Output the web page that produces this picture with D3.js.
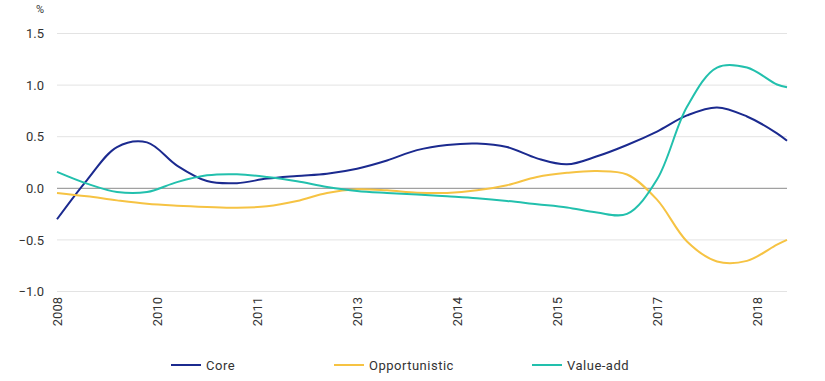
<!DOCTYPE html>
<html>
<head>
<meta charset="utf-8">
<script src="https://cdn.jsdelivr.net/npm/d3@7"></script>
<style>
  html, body { margin: 0; padding: 0; background: #fff; }
  svg { display: block; font-family: Roboto, "Noto Sans", sans-serif; }
</style>
</head>
<body>
<svg id="chart" width="825" height="381"></svg>
<script>
// ---- data ----
const periods = [0,3,6,9,12,15,18,21,24,27,30,33,36,39,42,45,48,51,54,57,60,63,66,69,72,73];
const tickPeriods = [0,10,20,30,40,50,60,70];
const tickLabels = ["2008","2010","2011","2013","2014","2015","2017","2018"];
const yTicks = [-1.0,-0.5,0.0,0.5,1.0,1.5];
const seriesNames = ["Core","Opportunistic","Value-add"];
const core = [-0.30,0.08,0.40,0.445,0.22,0.07,0.05,0.094,0.12,0.142,0.19,0.27,0.37,0.42,0.434,0.40,0.29,0.232,0.31,0.42,0.55,0.706,0.784,0.696,0.533,0.46];
const opportunistic = [-0.045,-0.078,-0.117,-0.15,-0.168,-0.18,-0.188,-0.175,-0.123,-0.045,-0.01,-0.02,-0.042,-0.045,-0.02,0.03,0.11,0.15,0.167,0.134,-0.11,-0.515,-0.709,-0.703,-0.546,-0.50];
const valueAdd = [0.159,0.045,-0.036,-0.036,0.06,0.126,0.136,0.11,0.068,0.013,-0.026,-0.045,-0.06,-0.078,-0.097,-0.123,-0.155,-0.186,-0.235,-0.248,0.085,0.79,1.17,1.17,1.006,0.98];
const colors = ["#1b2a8f","#f6c343","#22c0ad"];

// ---- layout ----
const svg = d3.select("#chart");
const x = d3.scaleLinear().domain([0,73]).range([57,787]);
const y = d3.scaleLinear().domain([-1,1.5]).range([291.5,33.5]);

// gridlines
svg.append("g").selectAll("line").data(yTicks.filter(d => d !== 0)).join("line")
  .attr("x1", 57).attr("x2", 787)
  .attr("y1", d => y(d)).attr("y2", d => y(d))
  .attr("stroke", "#e3e3e3").attr("stroke-width", 1);

// y axis labels
const yAxis = d3.axisLeft(y).tickValues(yTicks).tickFormat(d3.format(".1f")).tickSize(0).tickPadding(0);
const gy = svg.append("g").attr("transform", "translate(44,0)").call(yAxis);
gy.select(".domain").remove();
gy.selectAll("text").attr("font-size", 13).attr("fill", "#333").attr("font-family", "Roboto, sans-serif");

svg.append("text").attr("x", 44).attr("y", 13).attr("text-anchor", "end")
  .attr("font-size", 11).attr("fill", "#333").text("%");

// x axis labels
const xAxis = d3.axisBottom(x).tickValues(tickPeriods).tickFormat((d,i) => tickLabels[i]).tickSize(0);
const gx = svg.append("g").attr("transform", "translate(0,296)").call(xAxis);
gx.select(".domain").remove();
gx.selectAll(".tick text")
  .attr("font-size", 13).attr("fill", "#333").attr("font-family", "Roboto, sans-serif")
  .attr("text-anchor", "end").attr("dy", "0.35em").attr("x", -1).attr("y", 0)
  .attr("transform", "rotate(-90)");

// zero line
svg.append("line").attr("x1", 57).attr("x2", 787).attr("y1", y(0)).attr("y2", y(0))
  .attr("stroke", "#8a8a8a").attr("stroke-width", 1);

// lines
const allSeries = [core, opportunistic, valueAdd];
const line = d3.line().x((d,i) => x(periods[i])).y(d => y(d)).curve(d3.curveCatmullRom.alpha(0.5));
svg.append("g").selectAll("path").data(allSeries).join("path")
  .attr("d", d => line(d))
  .attr("fill", "none")
  .attr("stroke", (d,i) => colors[i])
  .attr("stroke-width", 2);

// legend
const legendX = [171, 334, 532];
const lg = svg.append("g").selectAll("g").data(seriesNames).join("g")
  .attr("transform", (d,i) => `translate(${legendX[i]},365)`);
lg.append("line").attr("x1", 0).attr("x2", 30).attr("y1", 0).attr("y2", 0)
  .attr("stroke", (d,i) => colors[i]).attr("stroke-width", 2);
lg.append("text").attr("x", 35).attr("y", 0).attr("dy", "0.35em")
  .attr("font-size", 13).attr("fill", "#333").attr("letter-spacing", "0.5px")
  .text(d => d);
</script>
</body>
</html>
